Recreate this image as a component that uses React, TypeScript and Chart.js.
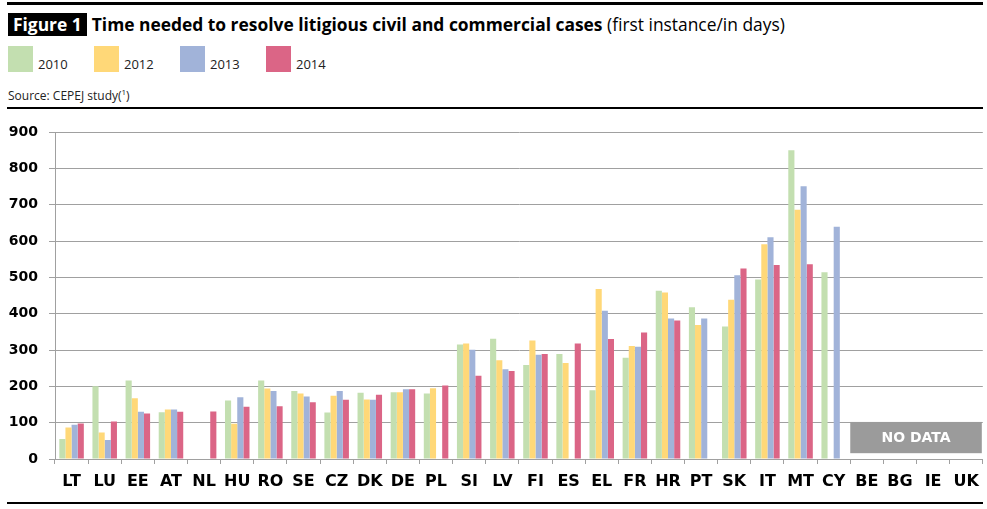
import React, { useEffect, useRef } from "react";
import { Chart, registerables } from "chart.js";

Chart.register(...registerables);

const categories = ["LT","LU","EE","AT","NL","HU","RO","SE","CZ","DK","DE","PL","SI","LV","FI","ES","EL","FR","HR","PT","SK","IT","MT","CY","BE","BG","IE","UK"];
const values2010 = [55,200,216,129,null,161,216,187,128,182,184,180,315,331,259,289,189,279,463,418,365,494,850,514,null,null,null,null];
const values2012 = [87,73,167,136,null,97,194,180,174,164,184,195,318,272,326,264,468,311,458,369,438,591,686,null,null,null,null,null];
const values2013 = [94,52,130,136,null,170,187,172,187,163,192,null,301,247,287,null,408,309,387,387,506,610,751,639,null,null,null,null];
const values2014 = [98,103,125,130,131,144,145,156,163,177,192,202,229,242,289,318,330,348,381,null,524,534,536,null,null,null,null,null];
const seriesLabels = ["2010","2012","2013","2014"];
const seriesColors = ["#c3dfb0","#ffd878","#a1b3d9","#db6586"];
const noDataCategories = ["BE","BG","IE","UK"];
const yTicks = { min: 0, max: 900, step: 100 };

const FONT = "'DejaVu Sans', sans-serif";
const TITLE_FONT = "'Open Sans', sans-serif";

const noDataPlugin = {
  id: "noData",
  afterDatasetsDraw(chart: any) {
    const { ctx, scales, chartArea } = chart;
    const xs = scales.x;
    const ys = scales.y;
    const first = categories.indexOf(noDataCategories[0]);
    const half = (chartArea.right - chartArea.left) / categories.length / 2;
    const left = xs.getPixelForValue(first) - half;
    const right = chartArea.right - 1;
    const top = ys.getPixelForValue(102);
    const bottom = ys.getPixelForValue(16);
    ctx.save();
    ctx.fillStyle = "#9b9b9b";
    ctx.fillRect(left, top, right - left, bottom - top);
    ctx.fillStyle = "#ffffff";
    ctx.font = "bold 14px " + FONT;
    ctx.textAlign = "center";
    ctx.textBaseline = "middle";
    ctx.fillText("NO DATA", (left + right) / 2, (top + bottom) / 2 + 1);
    ctx.restore();
  },
};

export default function App() {
  const canvasRef = useRef<HTMLCanvasElement | null>(null);

  useEffect(() => {
    document.body.style.margin = "0";
    const data = [values2010, values2012, values2013, values2014];
    const chart = new Chart(canvasRef.current as HTMLCanvasElement, {
      type: "bar",
      data: {
        labels: categories,
        datasets: seriesLabels.map((label, i) => ({
          label,
          data: data[i] as any,
          backgroundColor: seriesColors[i],
          borderWidth: 0,
          barPercentage: 1,
          categoryPercentage: 0.74,
        })),
      },
      plugins: [noDataPlugin],
      options: {
        animation: false,
        responsive: false,
        maintainAspectRatio: false,
        layout: { padding: { top: 22, right: 4, bottom: 6, left: 0 } },
        plugins: { legend: { display: false }, tooltip: { enabled: false }, title: { display: false } },
        scales: {
          x: {
            offset: true,
            grid: { display: true, offset: true, drawOnChartArea: false, drawTicks: true, tickLength: 5, color: "#a0a0a0" },
            border: { color: "#a0a0a0", width: 1 },
            ticks: { color: "#000", font: { family: FONT, weight: "bold", size: 16 }, padding: 8, maxRotation: 0, autoSkip: false },
            afterFit(scale: any) { scale.height = 44; },
          },
          y: {
            min: yTicks.min,
            max: yTicks.max,
            ticks: { stepSize: yTicks.step, color: "#000", font: { family: FONT, weight: "bold", size: 14 }, padding: 11 },
            grid: { color: "#a0a0a0", tickLength: 6, lineWidth: 1 },
            border: { color: "#a0a0a0", width: 1 },
            afterFit(scale: any) { scale.width = 55; },
          },
        },
      },
    } as any);
    return () => chart.destroy();
  }, []);

  return (
    <div style={{ position: "absolute", left: 0, top: 0, width: 987, height: 509, background: "#fff", overflow: "hidden" }}>
      <div style={{ position: "absolute", left: 7, top: 2, width: 976, height: 3, background: "#000" }} />
      <div style={{ position: "absolute", left: 8, top: 13, whiteSpace: "nowrap", fontFamily: TITLE_FONT, fontSize: 17.4, lineHeight: "23px", color: "#000" }}>
        <span style={{ background: "#000", color: "#fff", fontWeight: "bold", padding: "0 5px", display: "inline-block", marginRight: 5 }}>Figure 1</span>
        <span style={{ fontWeight: "bold" }}>Time needed to resolve litigious civil and commercial cases</span>
        <span> (first instance/in days)</span>
      </div>
      {seriesLabels.map((label, i) => (
        <div key={label} style={{ position: "absolute", left: 8 + i * 86, top: 46, height: 26 }}>
          <div style={{ position: "absolute", left: 0, top: 0, width: 25, height: 26, background: seriesColors[i] }} />
          <div style={{ position: "absolute", left: 30, top: 10, fontFamily: TITLE_FONT, fontSize: 13, lineHeight: "16px", color: "#222", whiteSpace: "nowrap" }}>{label}</div>
        </div>
      ))}
      <div style={{ position: "absolute", left: 8, top: 84, fontFamily: TITLE_FONT, fontSize: 12, lineHeight: "16px", color: "#222", whiteSpace: "nowrap" }}>
        Source: CEPEJ study(<sup style={{ fontSize: 8 }}>1</sup>)
      </div>
      <div style={{ position: "absolute", left: 7, top: 107, width: 976, height: 2, background: "#000" }} />
      <canvas ref={canvasRef} width={987} height={399} style={{ position: "absolute", left: 0, top: 110, width: 987, height: 399 }} />
      <div style={{ position: "absolute", left: 7, top: 502, width: 976, height: 2, background: "#000" }} />
    </div>
  );
}
